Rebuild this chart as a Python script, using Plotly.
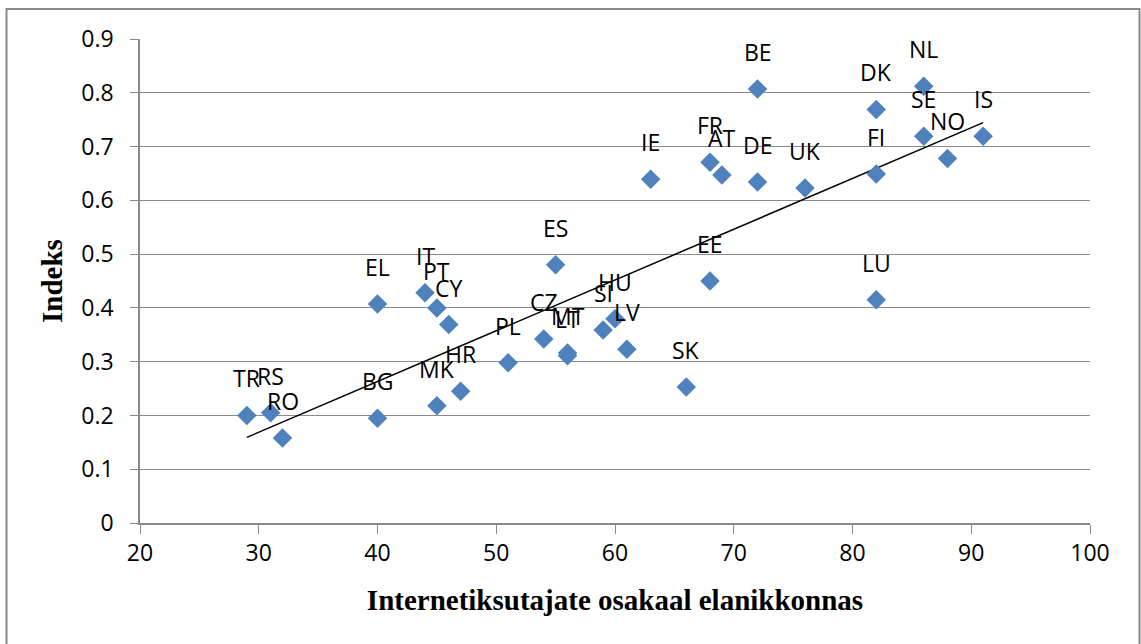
import numpy as np
import plotly.graph_objects as go

# Country codes, internet user share (%) and index value
countries = ["TR", "RS", "RO", "BG", "EL", "IT", "PT", "CY", "MK", "HR",
             "PL", "CZ", "MT", "LT", "SI", "HU", "LV", "ES", "SK", "EE",
             "LU", "IE", "FR", "AT", "BE", "DE", "UK", "DK", "FI", "NL",
             "SE", "NO", "IS"]
internet_share = [29, 31, 32, 40, 40, 44, 45, 46, 45, 47,
                  51, 54, 56, 56, 59, 60, 61, 55, 66, 68,
                  82, 63, 68, 69, 72, 72, 76, 82, 82, 86,
                  86, 88, 91]
index_value = [0.200, 0.205, 0.158, 0.195, 0.407, 0.428, 0.400, 0.369, 0.218, 0.245,
               0.298, 0.342, 0.316, 0.311, 0.359, 0.380, 0.323, 0.480, 0.253, 0.450,
               0.415, 0.639, 0.671, 0.647, 0.807, 0.634, 0.623, 0.769, 0.649, 0.812,
               0.719, 0.678, 0.719]

x_ticks = [20, 30, 40, 50, 60, 70, 80, 90, 100]
y_ticks = [0, 0.1, 0.2, 0.3, 0.4, 0.5, 0.6, 0.7, 0.8, 0.9]

# Linear trend line over the data range
slope, intercept = np.polyfit(internet_share, index_value, 1)
trend_x = [min(internet_share), max(internet_share)]
trend_y = [slope * v + intercept for v in trend_x]

GRID = "#8a8a8a"
LABEL_FONT = dict(family="Open Sans", size=23, color="#000000")
TITLE_FONT = dict(family="Liberation Serif", size=29, color="#000000")

fig = go.Figure()
fig.add_trace(go.Scatter(
    x=trend_x, y=trend_y, mode="lines",
    line=dict(color="#000000", width=1.5),
    hoverinfo="skip", showlegend=False,
))
fig.add_trace(go.Scatter(
    x=internet_share, y=index_value, mode="markers",
    marker=dict(symbol="diamond", size=15, color="#4F81BD"),
    text=countries, showlegend=False,
))

# Data labels above each marker
for c, xv, yv in zip(countries, internet_share, index_value):
    fig.add_annotation(x=xv, y=yv, text=c, showarrow=False,
                       yshift=37, font=LABEL_FONT)

# Outer chart frame
fig.add_shape(type="rect", xref="paper", yref="paper",
              x0=(6.5 - 140) / 950, x1=(1139.5 - 140) / 950,
              y0=(523 - 660) / 484, y1=(523 - 9) / 484,
              line=dict(color="#8a8a8a", width=2), layer="below")

fig.update_layout(
    width=1141, height=644,
    margin=dict(l=140, r=51, t=39, b=121),
    paper_bgcolor="#ffffff", plot_bgcolor="#ffffff",
    font=LABEL_FONT,
)
fig.update_xaxes(
    range=[20, 100], tickvals=x_ticks, ticktext=[str(v) for v in x_ticks],
    showgrid=False, zeroline=False,
    showline=True, linecolor=GRID, linewidth=1.5,
    ticks="outside", ticklen=9, tickcolor=GRID, tickwidth=1.3,
    tickfont=LABEL_FONT,
    title=dict(text="<b>Internetiksutajate osakaal elanikkonnas</b>",
               font=TITLE_FONT, standoff=22),
)
fig.update_yaxes(
    range=[0, 0.9], tickvals=y_ticks, ticktext=[("%g" % v) for v in y_ticks],
    showgrid=True, gridcolor=GRID, gridwidth=1.3, zeroline=False,
    showline=True, linecolor=GRID, linewidth=1.5,
    ticks="outside", ticklen=8, tickcolor=GRID, tickwidth=1.3,
    tickfont=LABEL_FONT, ticklabelstandoff=12,
    title=dict(text="<b>Indeks</b>", font=TITLE_FONT, standoff=10),
)

fig.write_html("out.html")
